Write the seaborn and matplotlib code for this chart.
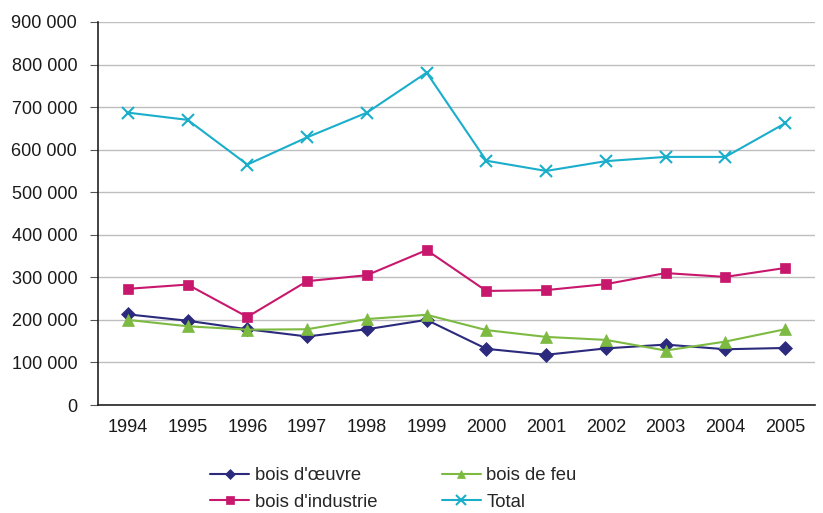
import matplotlib
matplotlib.use("Agg")
import matplotlib.pyplot as plt
import seaborn as sns
import pandas as pd
from matplotlib.ticker import FuncFormatter, FixedLocator

years = ["1994", "1995", "1996", "1997", "1998", "1999", "2000", "2001", "2002", "2003", "2004", "2005"]
bois_oeuvre = [213000, 198000, 178000, 161000, 178000, 200000, 132000, 118000, 133000, 142000, 131000, 134000]
bois_industrie = [273000, 283000, 207000, 291000, 305000, 364000, 268000, 270000, 284000, 310000, 301000, 322000]
bois_feu = [200000, 185000, 177000, 178000, 202000, 212000, 176000, 160000, 153000, 128000, 149000, 178000]
total = [687000, 670000, 565000, 629000, 687000, 781000, 574000, 550000, 573000, 583000, 583000, 662000]

series = [
    ("bois d'œuvre", bois_oeuvre, "#2B2A7C", "D", 7),
    ("bois d'industrie", bois_industrie, "#C8186E", "s", 7.5),
    ("bois de feu", bois_feu, "#7DBA42", "^", 8.5),
    ("Total", total, "#1AAECB", "x", 9),
]

sns.set_theme(style="white")
plt.rcParams["font.family"] = ["Liberation Sans", "DejaVu Sans"]

fig = plt.figure(figsize=(8.23, 5.13), dpi=100)
ax = fig.add_axes([98 / 823, 1 - 405 / 513, (815 - 98) / 823, (405 - 22) / 513])

x = list(range(len(years)))
handles = {}
for name, vals, color, marker, ms in series:
    df = pd.DataFrame({"x": x, "y": vals})
    sns.lineplot(data=df, x="x", y="y", ax=ax, color=color, marker=marker,
                 markersize=ms, markeredgecolor=color, markeredgewidth=1.5 if marker == "x" else 0.5,
                 linewidth=1.5, label=name, legend=False)
    handles[name] = ax.lines[-1]

ax.set_xlim(-0.5, len(years) - 0.5)
ax.set_ylim(0, 900000)
ax.set_yticks(range(0, 900001, 100000))
ax.yaxis.set_major_formatter(FuncFormatter(lambda v, p: f"{int(v):,}".replace(",", " ")))
ax.set_xticks(x)
ax.set_xticklabels(years)
ax.xaxis.set_minor_locator(FixedLocator([i - 0.5 for i in range(len(years) + 1)]))
ax.tick_params(axis="x", which="major", length=0, labelsize=13, pad=10, colors="#1a1a1a")
ax.tick_params(axis="x", which="minor", length=4, width=0.8, color="#555555")
ax.tick_params(axis="y", which="major", length=6, width=0.8, color="#555555", labelsize=13, pad=9, labelcolor="#1a1a1a", left=True)
ax.set_xlabel("")
ax.set_ylabel("")
ax.grid(axis="y", color="#BEBEBE", linewidth=1.0)
ax.set_axisbelow(True)
for s in ["top", "right"]:
    ax.spines[s].set_visible(False)
for s in ["left", "bottom"]:
    ax.spines[s].set_color("#222222")
    ax.spines[s].set_linewidth(1.2)

order = ["bois d'œuvre", "bois d'industrie", "bois de feu", "Total"]
fig.legend([handles[n] for n in order], order, ncol=2, loc="upper left",
           bbox_to_anchor=(203 / 823, 1 - 460 / 513), frameon=False,
           fontsize=13.3, handlelength=2.1, handletextpad=0.3, columnspacing=3.5,
           labelspacing=0.5, borderaxespad=0, markerscale=0.75)

fig.savefig("out.png", dpi=100)
